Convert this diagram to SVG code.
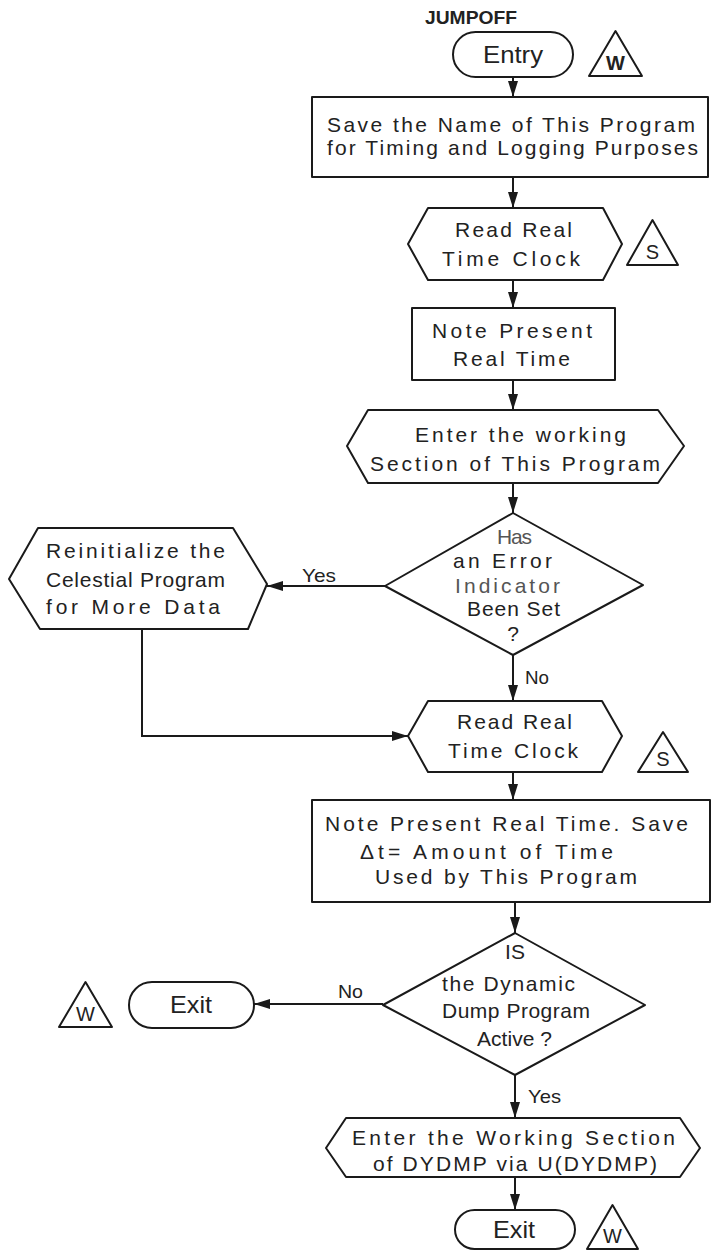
<svg xmlns="http://www.w3.org/2000/svg" width="716" height="1251" viewBox="0 0 716 1251">
  <style>
    .shape { fill: #ffffff; stroke: #1a1a1a; stroke-width: 2; stroke-linejoin: round; }
    .line { fill: none; stroke: #1a1a1a; stroke-width: 2; }
    .txt { font-family: "Liberation Sans", Arial, sans-serif; font-size: 21px; fill: #222222; }
    .faint { fill: #555555; }
    .lbl { font-family: "Liberation Sans", Arial, sans-serif; font-size: 19px; fill: #222222; }
    .term { font-family: "Liberation Sans", Arial, sans-serif; font-size: 24px; fill: #222222; }
    .mark { font-family: "Liberation Sans", Arial, sans-serif; font-size: 20px; fill: #222222; text-anchor: middle; }
  </style>
  <defs>
    <marker id="arrow" viewBox="0 0 16 10" refX="16" refY="5" markerWidth="16" markerHeight="10" orient="auto" markerUnits="userSpaceOnUse">
      <path d="M0,0 L16,5 L0,10 z" fill="#1a1a1a"/>
    </marker>
  </defs>

  <rect width="716" height="1251" fill="#ffffff"/>

  <!-- connectors -->
  <g id="connectors">
    <line class="line" x1="513" y1="77" x2="513" y2="97" marker-end="url(#arrow)"/>
    <line class="line" x1="513" y1="177" x2="513" y2="208" marker-end="url(#arrow)"/>
    <line class="line" x1="513" y1="280" x2="513" y2="308" marker-end="url(#arrow)"/>
    <line class="line" x1="513" y1="380" x2="513" y2="410" marker-end="url(#arrow)"/>
    <line class="line" x1="513" y1="483" x2="513" y2="513" marker-end="url(#arrow)"/>
    <line class="line" x1="385" y1="586" x2="267" y2="586" marker-end="url(#arrow)"/>
    <text class="lbl" x="302" y="582" textLength="34" lengthAdjust="spacingAndGlyphs">Yes</text>
    <line class="line" x1="513" y1="655" x2="513" y2="701" marker-end="url(#arrow)"/>
    <text class="lbl" x="525" y="684" textLength="24" lengthAdjust="spacingAndGlyphs">No</text>
    <path class="line" d="M142,630 V736 H408" marker-end="url(#arrow)"/>
    <line class="line" x1="513" y1="772" x2="513" y2="800" marker-end="url(#arrow)"/>
    <line class="line" x1="515" y1="902" x2="515" y2="933" marker-end="url(#arrow)"/>
    <line class="line" x1="383" y1="1004" x2="254" y2="1004" marker-end="url(#arrow)"/>
    <text class="lbl" x="338" y="998" textLength="25" lengthAdjust="spacingAndGlyphs">No</text>
    <line class="line" x1="515" y1="1075" x2="515" y2="1118" marker-end="url(#arrow)"/>
    <text class="lbl" x="528" y="1103" textLength="33" lengthAdjust="spacingAndGlyphs">Yes</text>
    <line class="line" x1="515" y1="1177" x2="515" y2="1210" marker-end="url(#arrow)"/>
  </g>

  <!-- entry point -->
  <g id="entry">
    <text class="lbl" x="425" y="24" font-size="16" font-weight="bold" textLength="92" lengthAdjust="spacingAndGlyphs">JUMPOFF</text>
    <rect class="shape" x="453" y="32" width="120" height="45" rx="22.5"/>
    <text class="term" x="483" y="63" textLength="60" lengthAdjust="spacingAndGlyphs">Entry</text>
  </g>
  <g id="entry-mark">
    <polygon class="shape" points="589,76 615.5,31 642,76"/>
    <text class="mark" x="615.5" y="70" font-weight="bold">W</text>
  </g>

  <!-- save program name -->
  <g id="save-name">
    <rect class="shape" x="312" y="97" width="396" height="80"/>
    <text class="txt" x="327" y="132" textLength="368" lengthAdjust="spacing">Save the Name of This Program</text>
    <text class="txt" x="327" y="155" textLength="371" lengthAdjust="spacing">for Timing and Logging Purposes</text>
  </g>

  <!-- read real time clock (1) -->
  <g id="read-clock-1">
    <polygon class="shape" points="408,244 428,208 603,208 622,244 603,280 428,280"/>
    <text class="txt" x="455" y="237" textLength="117" lengthAdjust="spacing">Read Real</text>
    <text class="txt" x="442" y="266" textLength="138" lengthAdjust="spacing">Time Clock</text>
  </g>
  <g id="read-clock-1-mark">
    <polygon class="shape" points="627,265 652.5,220 678,265"/>
    <text class="mark" x="652.5" y="259" font-size="21">S</text>
  </g>

  <!-- note present real time -->
  <g id="note-time">
    <rect class="shape" x="412" y="308" width="203" height="72"/>
    <text class="txt" x="432" y="338" textLength="160" lengthAdjust="spacing">Note Present</text>
    <text class="txt" x="453" y="366" textLength="117" lengthAdjust="spacing">Real Time</text>
  </g>

  <!-- enter working section -->
  <g id="enter-working">
    <polygon class="shape" points="347,446 368,410 658,410 684,446 658,483 368,483"/>
    <text class="txt" x="415" y="442" textLength="211" lengthAdjust="spacing">Enter the working</text>
    <text class="txt" x="370" y="471" textLength="290" lengthAdjust="spacing">Section of This Program</text>
  </g>

  <!-- error indicator decision -->
  <g id="error-check">
    <polygon class="shape" points="513,513 643,585 513,655 385,586"/>
    <text class="txt faint" x="497" y="544" textLength="35" lengthAdjust="spacing">Has</text>
    <text class="txt" x="453" y="568" textLength="99" lengthAdjust="spacing">an Error</text>
    <text class="txt faint" x="455" y="593" textLength="105" lengthAdjust="spacing">Indicator</text>
    <text class="txt" x="467" y="616" textLength="93" lengthAdjust="spacing">Been Set</text>
    <text class="txt" x="513" y="641" text-anchor="middle">?</text>
  </g>

  <!-- reinitialize celestial program -->
  <g id="reinitialize">
    <polygon class="shape" points="9,579 38,528 233,528 267,584 248,629 40,629"/>
    <text class="txt" x="46" y="558" textLength="179" lengthAdjust="spacing">Reinitialize  the</text>
    <text class="txt" x="46" y="587" textLength="179" lengthAdjust="spacing">Celestial Program</text>
    <text class="txt" x="46" y="614" textLength="174" lengthAdjust="spacing">for More Data</text>
  </g>

  <!-- read real time clock (2) -->
  <g id="read-clock-2">
    <polygon class="shape" points="408,736 428,701 602,701 622,736 602,772 428,772"/>
    <text class="txt" x="457" y="729" textLength="115" lengthAdjust="spacing">Read Real</text>
    <text class="txt" x="448" y="758" textLength="130" lengthAdjust="spacing">Time Clock</text>
  </g>
  <g id="read-clock-2-mark">
    <polygon class="shape" points="638,772 663,732 688,772"/>
    <text class="mark" x="663" y="766" font-size="21">S</text>
  </g>

  <!-- save elapsed time -->
  <g id="save-elapsed">
    <rect class="shape" x="312" y="800" width="398" height="102"/>
    <text class="txt" x="325" y="831" textLength="363" lengthAdjust="spacing">Note Present Real Time.  Save</text>
    <text class="txt" x="360" y="859" textLength="253" lengthAdjust="spacing">Δt= Amount of Time</text>
    <text class="txt" x="375" y="884" textLength="262" lengthAdjust="spacing">Used by This Program</text>
  </g>

  <!-- dynamic dump decision -->
  <g id="dump-check">
    <polygon class="shape" points="515,933 645,1005 515,1075 383,1005"/>
    <text class="txt" x="515" y="959" text-anchor="middle">IS</text>
    <text class="txt" x="442" y="991" textLength="133" lengthAdjust="spacing">the Dynamic</text>
    <text class="txt" x="442" y="1018" textLength="148" lengthAdjust="spacing">Dump Program</text>
    <text class="txt" x="477" y="1046" textLength="75" lengthAdjust="spacing">Active ?</text>
  </g>

  <!-- exit (no dump) -->
  <g id="exit-1">
    <rect class="shape" x="129" y="982" width="125" height="46" rx="23"/>
    <text class="term" x="170" y="1013" textLength="42" lengthAdjust="spacingAndGlyphs">Exit</text>
  </g>
  <g id="exit-1-mark">
    <polygon class="shape" points="59,1027 85.5,982 112,1027"/>
    <text class="mark" x="85.5" y="1021">W</text>
  </g>

  <!-- enter DYDMP working section -->
  <g id="enter-dydmp">
    <polygon class="shape" points="326,1148 346,1118 680,1118 700,1148 680,1177 346,1177"/>
    <text class="txt" x="352" y="1145" textLength="323" lengthAdjust="spacing">Enter the Working Section</text>
    <text class="txt" x="373" y="1171" textLength="284" lengthAdjust="spacing">of DYDMP via U(DYDMP)</text>
  </g>

  <!-- exit (after dump) -->
  <g id="exit-2">
    <rect class="shape" x="455" y="1210" width="120" height="39" rx="19.5"/>
    <text class="term" x="493" y="1238" textLength="42" lengthAdjust="spacingAndGlyphs">Exit</text>
  </g>
  <g id="exit-2-mark">
    <polygon class="shape" points="587,1249 612.5,1205 638,1249"/>
    <text class="mark" x="612.5" y="1243">W</text>
  </g>
</svg>
